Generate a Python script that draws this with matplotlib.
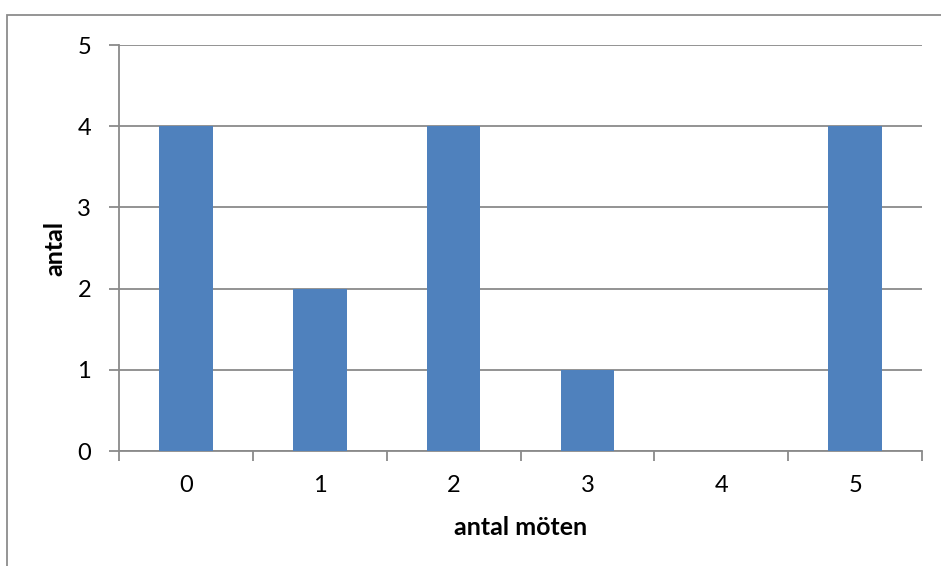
import matplotlib
matplotlib.use("Agg")
import matplotlib.pyplot as plt
from matplotlib.patches import Rectangle

# data
kategorier = ["0", "1", "2", "3", "4", "5"]
antal = [4, 2, 4, 1, 0, 4]

plt.rcParams["font.family"] = ["Lato", "DejaVu Sans"]

fig = plt.figure(figsize=(9.41, 5.66), dpi=100)
ax = fig.add_axes([119 / 941, 1 - 451 / 566, (922 - 119) / 941, (451 - 45) / 566])

# ram runt diagrammet
fig.patches.append(Rectangle((7 / 941, -0.1), 1.2, 1 - 15 / 566 + 0.1,
                             transform=fig.transFigure, fill=False,
                             edgecolor="#8c8c8c", linewidth=1.3))

x = range(len(kategorier))
ax.bar(x, antal, width=0.4, color="#4f81bd", zorder=3)

ax.set_xlim(-0.5, len(kategorier) - 0.5)
ax.set_ylim(0, 5)
ax.set_yticks(range(6))
ax.grid(axis="y", color="#8a8a8a", linewidth=1.3, zorder=0)

ax.set_xticks(x)
ax.set_xticklabels(kategorier)
ax.set_xticks([i - 0.5 for i in range(len(kategorier) + 1)], minor=True)
ax.tick_params(axis="x", which="major", length=0, pad=17, labelsize=17)
ax.tick_params(axis="x", which="minor", length=7, width=1.3, color="#8a8a8a")
ax.tick_params(axis="y", length=7, width=1.3, color="#8a8a8a", pad=13, labelsize=17)

for s in ["top", "right"]:
    ax.spines[s].set_visible(False)
for s in ["left", "bottom"]:
    ax.spines[s].set_color("#8a8a8a")
    ax.spines[s].set_linewidth(1.3)

ax.set_xlabel("antal möten", fontsize=18, fontweight="bold", labelpad=15)
ax.set_ylabel("antal", fontsize=18, fontweight="bold", labelpad=8)

fig.savefig("out.png", dpi=100)
